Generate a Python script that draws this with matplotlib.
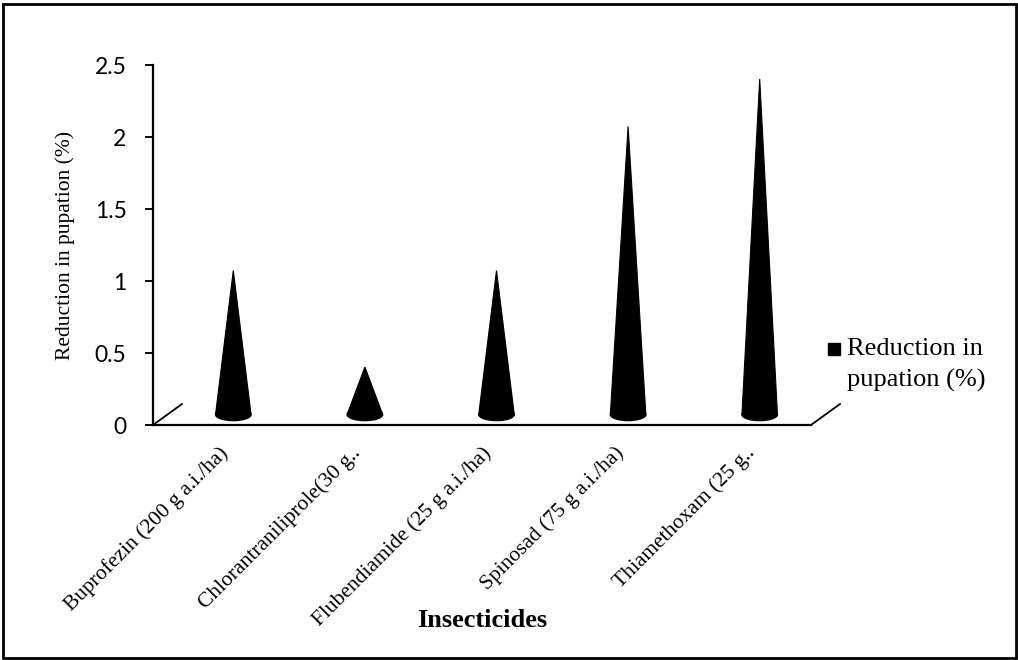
"""Cone chart: reduction in pupation (%) per insecticide treatment."""
import matplotlib
matplotlib.use("Agg")
import matplotlib.pyplot as plt
import matplotlib.transforms as mtransforms
from matplotlib.lines import Line2D
from matplotlib.patches import Ellipse, Polygon, Rectangle

insecticides = [
    "Buprofezin (200 g a.i./ha)",
    "Chlorantraniliprole(30 g..",
    "Flubendiamide (25 g a.i./ha)",
    "Spinosad (75 g a.i./ha)",
    "Thiamethoxam (25 g..",
]
reduction = [1.0, 0.33, 1.0, 2.0, 2.33]
yticks = [0, 0.5, 1, 1.5, 2, 2.5]
series_name = "Reduction in\npupation (%)"

SERIF = ["Liberation Serif", "DejaVu Serif"]
SANS = ["Lato", "DejaVu Sans"]

W, H = 1018, 660
fig = plt.figure(figsize=(W / 100, H / 100), dpi=100)
ax = fig.add_axes([153 / W, 1 - 425 / H, 658 / W, 360 / H])

ax.set_xlim(-0.5, len(insecticides) - 0.5)
ax.set_ylim(0, 2.5)

# depth of the 3-D floor, in pixels; cones stand half way back
depth_x, depth_y = 29, 21
cone_tf = mtransforms.offset_copy(ax.transData, fig=fig, x=depth_x / 2,
                                  y=depth_y / 2, units="dots")
half_w = 0.135
base_h = 0.085
for i, v in enumerate(reduction):
    ax.add_patch(Polygon([(i - half_w, 0), (i, v), (i + half_w, 0)],
                         closed=True, facecolor="black", edgecolor="black",
                         lw=0.8, transform=cone_tf, clip_on=False))
    ax.add_patch(Ellipse((i, 0), 2 * half_w, base_h, facecolor="black",
                         edgecolor="black", transform=cone_tf, clip_on=False))

# floor side edges
dxf, dyf = depth_x / 658, depth_y / 360
ax.plot([0, dxf], [0, dyf], color="black", lw=1.3, transform=ax.transAxes,
        clip_on=False)
ax.plot([1, 1 + dxf], [0, dyf], color="black", lw=1.3, transform=ax.transAxes,
        clip_on=False)

for s in ("top", "right"):
    ax.spines[s].set_visible(False)
ax.spines["left"].set_linewidth(1.6)
ax.spines["bottom"].set_linewidth(1.6)

ax.set_yticks(yticks)
ax.set_yticklabels([f"{t:g}" for t in yticks], family=SANS, fontsize=16.5)
ax.tick_params(axis="y", length=6, width=1.4, pad=13, color="black")
ax.set_xticks(range(len(insecticides)))
ax.set_xticklabels(insecticides, rotation=45, ha="right",
                   rotation_mode="anchor", family=SERIF, fontsize=15.5)
ax.tick_params(axis="x", length=0, pad=13)
for lbl in ax.get_xticklabels():
    lbl.set_transform(lbl.get_transform() +
                      mtransforms.ScaledTranslation(0.0, 0, fig.dpi_scale_trans))

ax.set_ylabel("Reduction in pupation (%)", family=SERIF, fontsize=15.5,
              labelpad=14)
ax.set_xlabel("Insecticides", family=SERIF, fontsize=19, fontweight="bold",
              va="top")
ax.xaxis.set_label_coords(0.5, -0.51)

# series key: black square beside a two-line caption
fig.add_artist(Line2D([834 / W], [1 - 349 / H], marker="s", color="black",
                      markersize=8.5, linestyle="None",
                      transform=fig.transFigure))
fig.text(847 / W, 1 - 338 / H, series_name, family=SERIF, fontsize=19,
         va="top", ha="left", linespacing=1.5)

fig.patches.append(Rectangle((3 / W, 2 / H), 1013 / W, 654 / H, fill=False,
                             edgecolor="black", lw=2,
                             transform=fig.transFigure))

fig.savefig("out.png", dpi=100)
